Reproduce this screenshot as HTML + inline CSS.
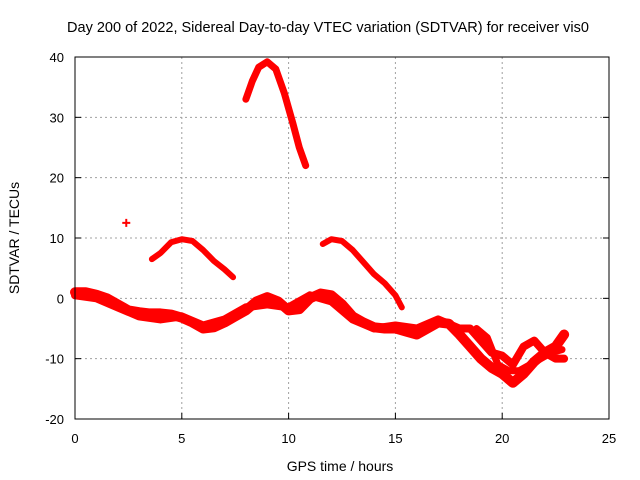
<!DOCTYPE html>
<html><head><meta charset="utf-8"><style>
body{margin:0;background:#fff}
svg{display:block;font-family:"Liberation Sans",sans-serif}
</style></head><body>
<svg id="chart" width="640" height="480" viewBox="0 0 640 480">
<text x="328" y="32" text-anchor="middle" font-size="14.5">Day 200 of 2022, Sidereal Day-to-day VTEC variation (SDTVAR) for receiver vis0</text>
<text x="340" y="471" text-anchor="middle" font-size="14">GPS time / hours</text>
<text transform="translate(19,238) rotate(-90)" text-anchor="middle" font-size="14">SDTVAR / TECUs</text>
<g id="grid"></g><g id="axes"></g><g id="marks"></g>
<rect x="75" y="57" width="534" height="362" fill="none" stroke="#000" stroke-width="1"/>
</svg>
<script>
const xTicks=[0,5,10,15,20,25];
const yTicks=[-20,-10,0,10,20,30,40];
const arcHigh=[[8.0,33],[8.3,36],[8.6,38.3],[9.0,39.2],[9.4,38],[9.8,34],[10.2,29],[10.5,25],[10.8,22]];
const arcMid1=[[3.6,6.5],[4.0,7.5],[4.5,9.3],[5.0,9.8],[5.5,9.5],[6.0,8],[6.5,6.2],[7.0,4.8],[7.4,3.5]];
const arcMid2=[[11.6,9],[12.0,9.8],[12.5,9.5],[13.0,8],[13.5,6],[14.0,4],[14.5,2.5],[15.0,0.5],[15.3,-1.5]];
const lowMain=[[0,1],[0.5,1],[1,0.6],[1.5,0],[2,-1],[2.5,-2],[3,-2.3],[3.5,-2.5],[4,-2.5],[4.5,-2.7],[5,-3.2],[5.5,-4],[6,-5],[6.5,-4.8],[7,-4],[7.5,-3],[8,-2],[8.5,-0.5],[9,0.2],[9.5,-0.5],[10,-2],[10.5,-1.8],[11,0],[11.5,0.8],[12,0.5],[12.5,-1],[13,-3],[13.5,-4],[14,-4.8],[14.5,-5],[15,-5],[15.5,-5.5],[16,-6],[16.5,-5],[17,-4],[17.5,-4.2],[18,-6],[18.5,-8],[19,-10],[19.5,-11.5],[20,-12.5],[20.5,-14],[21,-12.5],[21.5,-10.5],[22,-9],[22.5,-8],[22.9,-6]];
const lowAlt=[[0,0.5],[1,0],[2,-1.5],[3,-3],[4,-3.5],[5,-3],[6,-4.5],[7,-3.5],[8,-1.5],[9,-1],[10,-1.5],[11,0.5],[12,-0.5],[13,-3.5],[14,-5],[15,-4.5],[16,-5],[17,-3.5],[18,-5],[18.5,-5],[19,-7],[19.5,-9],[20,-9.5],[20.5,-11],[21,-8],[21.5,-7],[22,-9],[22.5,-10],[22.9,-10]];
const lowAlt2=[[18.8,-5],[19.3,-6.5],[19.8,-11],[20.3,-12],[20.8,-12],[21.3,-11],[21.8,-10],[22.3,-9],[22.8,-8.5]];
const singles=[[2.4,12.5]];
const X=h=>75+h*534/25, Y=v=>419-(v+20)*362/60;
const ns="http://www.w3.org/2000/svg";
function mk(t,a,p){const e=document.createElementNS(ns,t);for(const k in a)e.setAttribute(k,a[k]);p.appendChild(e);return e;}
const grid=document.getElementById('grid'),axes=document.getElementById('axes'),marks=document.getElementById('marks');
xTicks.forEach(t=>{
 if(t>0&&t<25){const l=mk('line',{x1:X(t),x2:X(t),y1:57,y2:419,stroke:'#a0a0a0','stroke-dasharray':'2,3'},grid);
 
 }
 const tk=mk('line',{x1:X(t),x2:X(t),y1:419,y2:413,stroke:'#000'},axes);
 
 
 const tx=mk('text',{x:X(t),y:443,'text-anchor':'middle','font-size':13},axes);tx.textContent=t;
 
 
});
yTicks.forEach(t=>{
 if(t>-20&&t<40){const l=mk('line',{x1:75,x2:609,y1:Y(t),y2:Y(t),stroke:'#a0a0a0','stroke-dasharray':'2,3'},grid);
 
 }
 const tk=mk('line',{x1:75,x2:81,y1:Y(t),y2:Y(t),stroke:'#000'},axes);
 
 
 const tk2=mk('line',{x1:603,x2:609,y1:Y(t),y2:Y(t),stroke:'#000'},axes);
 
 
 const tx=mk('text',{x:64,y:Y(t)+5,'text-anchor':'end','font-size':13},axes);tx.textContent=t;
 
 
});
[[arcHigh,'arc-high',7],[arcMid1,'arc-mid-1',6],[arcMid2,'arc-mid-2',6],[lowMain,'low-track-main',10],[lowAlt,'low-track-alt',8],[lowAlt2,'low-track-alt-2',7]].forEach(([d,n,w])=>{
 const p=mk('polyline',{points:d.map(q=>X(q[0])+','+Y(q[1])).join(' '),fill:'none',stroke:'#f00','stroke-width':w,'stroke-linejoin':'round','stroke-linecap':'round'},marks);
 
 
});
singles.forEach(q=>{
 const p=mk('path',{d:`M${X(q[0])-4},${Y(q[1])}h8M${X(q[0])},${Y(q[1])-4}v8`,stroke:'#f00','stroke-width':2},marks);
 
 
});
</script>
</body></html>
